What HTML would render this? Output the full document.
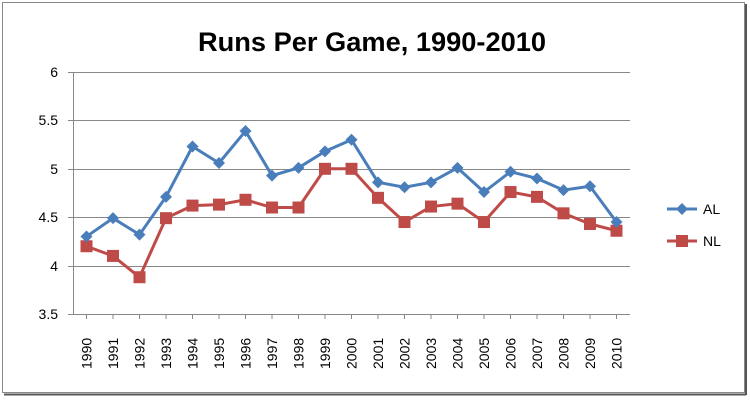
<!DOCTYPE html>
<html><head><style>body{margin:0;background:#fff}</style></head><body>
<svg width="750" height="400" xmlns="http://www.w3.org/2000/svg" font-family="Liberation Sans, sans-serif">
<rect x="0" y="0" width="750" height="400" fill="#fff"/>
<rect x="2.5" y="2.5" width="742" height="390" fill="#fff" stroke="#888" stroke-width="1"/>
<line x1="4" y1="394.5" x2="746" y2="394.5" stroke="#555" stroke-width="2"/>
<line x1="746" y1="4" x2="746" y2="395" stroke="#555" stroke-width="2"/>
<text x="372" y="51" text-anchor="middle" font-size="27" font-weight="bold" fill="#000" textLength="348" lengthAdjust="spacingAndGlyphs">Runs Per Game, 1990-2010</text>
<g stroke="#888" stroke-width="1">
<line x1="68" y1="72.5" x2="630" y2="72.5"/>
<line x1="68" y1="120.5" x2="630" y2="120.5"/>
<line x1="68" y1="169.5" x2="630" y2="169.5"/>
<line x1="68" y1="217.5" x2="630" y2="217.5"/>
<line x1="68" y1="266.5" x2="630" y2="266.5"/>
<line x1="68" y1="314.5" x2="630" y2="314.5"/>
<line x1="73.5" y1="72" x2="73.5" y2="314"/>
</g>
<g font-size="14" fill="#000" text-anchor="end">
<text x="58" y="77">6</text><text x="58" y="125">5.5</text><text x="58" y="174">5</text>
<text x="58" y="222">4.5</text><text x="58" y="271">4</text><text x="58" y="319">3.5</text>
</g>
<g id="xl" font-size="14" fill="#000"></g>
<polyline id="al" fill="none" stroke="#4a7ebb" stroke-width="3"/>
<polyline id="nl" fill="none" stroke="#be4b48" stroke-width="3"/>
<g id="m"></g>
<line x1="667" y1="209" x2="697" y2="209" stroke="#4a7ebb" stroke-width="3"/>
<path d="M682 203 L688 209 L682 215 L676 209Z" fill="#4a7ebb"/>
<text x="703" y="214" font-size="14">AL</text>
<line x1="667" y1="241" x2="697" y2="241" stroke="#be4b48" stroke-width="3"/>
<rect x="676" y="235" width="12" height="12" fill="#be4b48"/>
<text x="703" y="246" font-size="14">NL</text>
</svg>
<script>
var al=[4.30,4.49,4.32,4.71,5.23,5.06,5.39,4.93,5.01,5.18,5.30,4.86,4.81,4.86,5.01,4.76,4.97,4.90,4.78,4.82,4.45];
var nl=[4.20,4.10,3.88,4.49,4.62,4.63,4.68,4.60,4.60,5.00,5.00,4.70,4.45,4.61,4.64,4.45,4.76,4.71,4.54,4.43,4.36];
function X(i){return 86.5+i*26.5}function Y(v){return 314-(v-3.5)*96.8}
var ns="http://www.w3.org/2000/svg";
document.getElementById('al').setAttribute('points',al.map((v,i)=>X(i)+','+Y(v)).join(' '));
document.getElementById('nl').setAttribute('points',nl.map((v,i)=>X(i)+','+Y(v)).join(' '));
var m=document.getElementById('m'),xl=document.getElementById('xl');
for(var i=0;i<21;i++){
 var x=X(i);
 var r=document.createElementNS(ns,'rect');r.setAttribute('x',x-6);r.setAttribute('y',Y(nl[i])-6);r.setAttribute('width',12);r.setAttribute('height',12);r.setAttribute('fill','#be4b48');m.appendChild(r);
 var p=document.createElementNS(ns,'path');var y=Y(al[i]);p.setAttribute('d','M'+x+' '+(y-6)+' L'+(x+6)+' '+y+' L'+x+' '+(y+6)+' L'+(x-6)+' '+y+'Z');p.setAttribute('fill','#4a7ebb');m.appendChild(p);
 var t=document.createElementNS(ns,'text');t.textContent=1990+i;t.setAttribute('transform','translate('+(x+5)+',369) rotate(-90)');xl.appendChild(t);
 var l=document.createElementNS(ns,'line');l.setAttribute('x1',x);l.setAttribute('x2',x);l.setAttribute('y1',314);l.setAttribute('y2',319);l.setAttribute('stroke','#888');m.appendChild(l);
}
</script>
</body></html>
